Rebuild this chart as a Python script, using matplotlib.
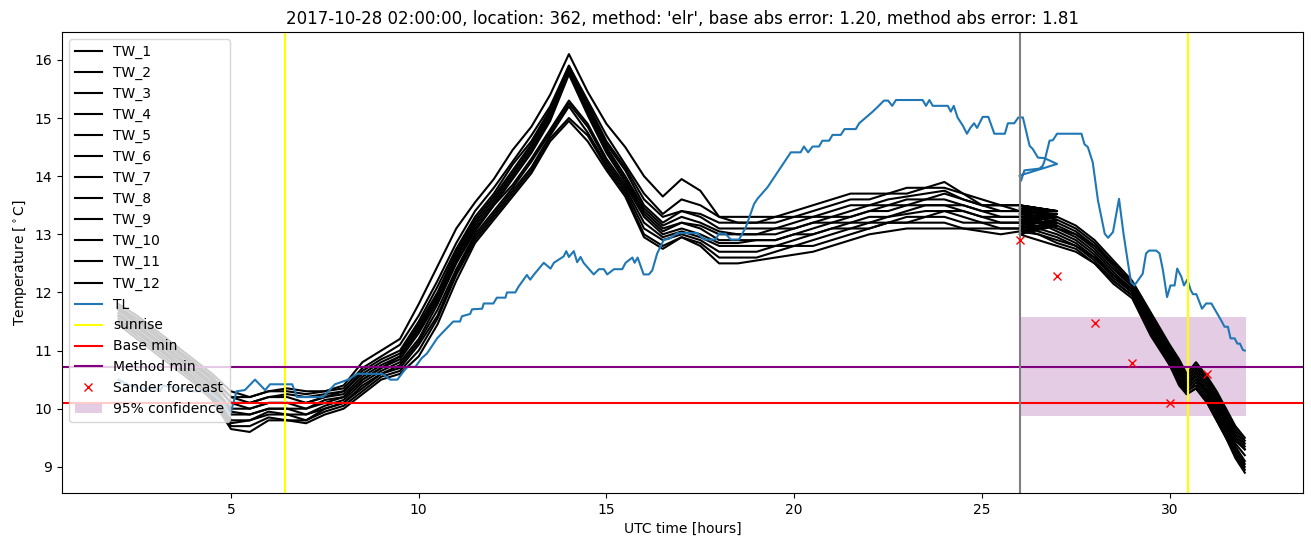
import numpy as np
import matplotlib
matplotlib.use("Agg")
import matplotlib.pyplot as plt

# ---------------- data ----------------
# TW series: part A (observed, 2 h .. 27 h) and part B (forecast, 26 h .. 32 h)
tw_x_a = [2.0, 2.5, 3.0, 3.5, 4.0, 4.5, 5.0, 5.5, 6.0, 6.5, 7.0, 7.5, 8.0, 8.5, 9.0, 9.5,
          10.0, 10.5, 11.0, 11.5, 12.0, 12.5, 13.0, 13.5, 14.0, 14.5, 15.0, 15.5, 16.0,
          16.5, 17.0, 17.5, 18.0, 18.5, 19.0, 19.5, 20.0, 20.5, 21.0, 21.5, 22.0, 22.5,
          23.0, 23.5, 24.0, 24.5, 25.0, 25.5, 26.0, 26.5, 27.0]
tw_x_b = [26.0, 26.5, 27.0, 27.5, 28.0, 28.5, 29.0, 29.5, 30.0, 30.25, 30.45, 30.7,
          31.0, 31.25, 31.5, 31.75, 32.0]

tw1_a = [11.8, 11.6, 11.35, 11.1, 10.85, 10.6, 10.3, 10.2, 10.3, 10.35, 10.3, 10.3, 10.4, 10.8, 11.0, 11.2, 11.8, 12.45, 13.1, 13.55, 13.95, 14.45, 14.85, 15.4, 16.1, 15.45, 14.9, 14.5, 14.0, 13.65, 13.95, 13.75, 13.3, 13.3, 13.3, 13.3, 13.4, 13.5, 13.6, 13.7, 13.7, 13.7, 13.8, 13.8, 13.9, 13.7, 13.6, 13.5, 13.5, 13.45, 13.4]
tw2_a = [11.75, 11.55, 11.3, 11.05, 10.8, 10.55, 10.2, 10.2, 10.3, 10.3, 10.25, 10.3, 10.35, 10.7, 10.9, 11.1, 11.6, 12.2, 12.85, 13.4, 13.8, 14.25, 14.7, 15.2, 15.9, 15.3, 14.7, 14.2, 13.7, 13.35, 13.6, 13.5, 13.3, 13.2, 13.2, 13.3, 13.3, 13.4, 13.5, 13.6, 13.6, 13.7, 13.7, 13.8, 13.8, 13.7, 13.5, 13.5, 13.5, 13.4, 13.4]
tw3_a = [11.75, 11.5, 11.3, 11.0, 10.8, 10.5, 10.2, 10.1, 10.2, 10.25, 10.2, 10.25, 10.3, 10.65, 10.85, 11.0, 11.5, 12.1, 12.75, 13.3, 13.7, 14.2, 14.6, 15.15, 15.9, 15.25, 14.6, 14.15, 13.6, 13.3, 13.4, 13.35, 13.2, 13.2, 13.2, 13.2, 13.3, 13.3, 13.4, 13.5, 13.5, 13.6, 13.65, 13.7, 13.75, 13.6, 13.5, 13.5, 13.4, 13.4, 13.4]
tw4_a = [11.7, 11.5, 11.25, 11.0, 10.75, 10.5, 10.1, 10.1, 10.2, 10.2, 10.1, 10.2, 10.3, 10.6, 10.8, 10.95, 11.45, 12.0, 12.7, 13.25, 13.65, 14.1, 14.55, 15.1, 15.85, 15.2, 14.55, 14.1, 13.5, 13.2, 13.4, 13.3, 13.1, 13.1, 13.1, 13.1, 13.2, 13.3, 13.3, 13.4, 13.5, 13.5, 13.6, 13.6, 13.7, 13.6, 13.5, 13.4, 13.4, 13.4, 13.4]
tw5_a = [11.7, 11.45, 11.2, 10.95, 10.7, 10.45, 10.1, 10.0, 10.1, 10.1, 10.1, 10.2, 10.25, 10.55, 10.75, 10.9, 11.4, 11.95, 12.65, 13.2, 13.6, 14.05, 14.5, 15.05, 15.8, 15.15, 14.5, 14.0, 13.45, 13.15, 13.3, 13.2, 13.05, 13.0, 13.0, 13.1, 13.1, 13.2, 13.3, 13.3, 13.4, 13.5, 13.5, 13.6, 13.6, 13.5, 13.4, 13.4, 13.4, 13.35, 13.35]
tw6_a = [11.65, 11.4, 11.2, 10.9, 10.7, 10.4, 10.0, 10.0, 10.1, 10.1, 10.0, 10.15, 10.2, 10.5, 10.7, 10.9, 11.35, 11.9, 12.6, 13.15, 13.55, 14.0, 14.45, 15.0, 15.8, 15.1, 14.45, 13.95, 13.4, 13.1, 13.2, 13.15, 13.0, 13.0, 13.0, 13.0, 13.1, 13.2, 13.2, 13.3, 13.4, 13.4, 13.5, 13.5, 13.5, 13.5, 13.4, 13.3, 13.3, 13.3, 13.35]
tw7_a = [11.6, 11.4, 11.15, 10.9, 10.65, 10.4, 9.95, 9.9, 10.0, 10.0, 10.0, 10.1, 10.2, 10.5, 10.7, 10.85, 11.3, 11.85, 12.55, 13.1, 13.5, 13.95, 14.4, 14.95, 15.75, 15.05, 14.4, 13.9, 13.35, 13.05, 13.2, 13.1, 12.9, 12.9, 12.9, 12.9, 13.0, 13.1, 13.2, 13.2, 13.3, 13.3, 13.4, 13.5, 13.5, 13.4, 13.3, 13.3, 13.3, 13.3, 13.3]
tw8_a = [11.6, 11.35, 11.1, 10.85, 10.6, 10.35, 9.9, 9.9, 10.0, 10.0, 9.9, 10.05, 10.15, 10.45, 10.65, 10.8, 11.2, 11.8, 12.5, 13.05, 13.5, 13.85, 14.3, 14.8, 15.3, 14.9, 14.3, 13.85, 13.3, 13.0, 13.1, 13.0, 12.85, 12.85, 12.9, 12.9, 13.0, 13.0, 13.1, 13.2, 13.2, 13.3, 13.35, 13.4, 13.4, 13.4, 13.3, 13.2, 13.2, 13.25, 13.3]
tw9_a = [11.55, 11.3, 11.1, 10.8, 10.55, 10.3, 9.8, 9.8, 9.95, 9.9, 9.9, 10.0, 10.1, 10.4, 10.6, 10.75, 11.15, 11.7, 12.4, 13.0, 13.4, 13.8, 14.25, 14.75, 15.25, 14.85, 14.25, 13.8, 13.2, 12.95, 13.05, 12.95, 12.8, 12.8, 12.8, 12.8, 12.9, 13.0, 13.1, 13.1, 13.2, 13.2, 13.3, 13.3, 13.4, 13.3, 13.2, 13.2, 13.2, 13.2, 13.25]
tw10_a = [11.5, 11.3, 11.05, 10.8, 10.5, 10.25, 9.75, 9.8, 9.9, 9.9, 9.8, 10.0, 10.1, 10.35, 10.6, 10.7, 11.1, 11.6, 12.35, 12.95, 13.35, 13.75, 14.15, 14.7, 15.2, 14.75, 14.2, 13.75, 13.1, 12.9, 13.0, 12.9, 12.7, 12.7, 12.7, 12.8, 12.8, 12.9, 13.0, 13.1, 13.1, 13.2, 13.2, 13.3, 13.3, 13.2, 13.2, 13.1, 13.1, 13.2, 13.2]
tw11_a = [11.5, 11.25, 11.0, 10.75, 10.5, 10.2, 9.7, 9.7, 9.85, 9.8, 9.8, 9.95, 10.05, 10.3, 10.55, 10.65, 11.0, 11.55, 12.3, 12.9, 13.3, 13.7, 14.1, 14.65, 15.0, 14.7, 14.15, 13.7, 13.0, 12.8, 12.95, 12.85, 12.6, 12.6, 12.6, 12.7, 12.8, 12.8, 12.9, 13.0, 13.1, 13.2, 13.2, 13.2, 13.2, 13.1, 13.1, 13.1, 13.1, 13.15, 13.2]
tw12_a = [11.45, 11.2, 10.95, 10.7, 10.45, 10.15, 9.65, 9.6, 9.8, 9.8, 9.75, 9.9, 10.0, 10.25, 10.5, 10.6, 10.9, 11.45, 12.2, 12.85, 13.25, 13.65, 14.05, 14.6, 14.95, 14.6, 14.1, 13.65, 12.95, 12.75, 12.95, 12.8, 12.5, 12.5, 12.55, 12.6, 12.65, 12.7, 12.8, 12.9, 13.0, 13.05, 13.1, 13.1, 13.1, 13.1, 13.05, 13.0, 13.05, 13.1, 13.15]

tw1_b = [13.5, 13.4, 13.3, 13.15, 12.9, 12.55, 12.2, 11.65, 11.1, 10.85, 10.6, 10.8, 10.55, 10.3, 10.0, 9.7, 9.5]
tw2_b = [13.45, 13.35, 13.25, 13.1, 12.85, 12.5, 12.15, 11.6, 11.05, 10.8, 10.55, 10.75, 10.5, 10.25, 9.95, 9.65, 9.45]
tw3_b = [13.4, 13.3, 13.2, 13.05, 12.8, 12.5, 12.15, 11.55, 11.0, 10.75, 10.5, 10.7, 10.45, 10.2, 9.9, 9.6, 9.4]
tw4_b = [13.35, 13.3, 13.15, 13.0, 12.8, 12.45, 12.1, 11.5, 11.0, 10.7, 10.45, 10.65, 10.4, 10.15, 9.85, 9.55, 9.35]
tw5_b = [13.3, 13.25, 13.1, 13.0, 12.75, 12.4, 12.1, 11.5, 10.95, 10.65, 10.4, 10.6, 10.35, 10.1, 9.8, 9.5, 9.3]
tw6_b = [13.3, 13.2, 13.1, 12.95, 12.7, 12.35, 12.05, 11.45, 10.9, 10.6, 10.4, 10.55, 10.3, 10.05, 9.75, 9.45, 9.3]
tw7_b = [13.25, 13.2, 13.05, 12.9, 12.65, 12.3, 12.05, 11.4, 10.9, 10.6, 10.35, 10.5, 10.3, 10.0, 9.7, 9.4, 9.2]
tw8_b = [13.2, 13.1, 13.0, 12.85, 12.6, 12.3, 12.0, 11.4, 10.85, 10.55, 10.35, 10.5, 10.25, 9.95, 9.65, 9.35, 9.1]
tw9_b = [13.15, 13.05, 12.95, 12.8, 12.6, 12.25, 12.0, 11.35, 10.8, 10.5, 10.3, 10.45, 10.2, 9.9, 9.6, 9.3, 9.05]
tw10_b = [13.1, 13.0, 12.9, 12.8, 12.55, 12.2, 11.95, 11.3, 10.8, 10.45, 10.3, 10.4, 10.15, 9.85, 9.55, 9.25, 9.0]
tw11_b = [13.05, 13.0, 12.85, 12.75, 12.5, 12.2, 11.95, 11.3, 10.75, 10.45, 10.25, 10.35, 10.1, 9.8, 9.5, 9.2, 8.95]
tw12_b = [13.0, 12.9, 12.8, 12.7, 12.5, 12.15, 11.9, 11.25, 10.75, 10.4, 10.25, 10.35, 10.1, 9.8, 9.5, 9.15, 8.9]

tw_names = ["TW_%d" % i for i in range(1, 13)]
tw_a = [tw1_a, tw2_a, tw3_a, tw4_a, tw5_a, tw6_a, tw7_a, tw8_a, tw9_a, tw10_a, tw11_a, tw12_a]
tw_b = [tw1_b, tw2_b, tw3_b, tw4_b, tw5_b, tw6_b, tw7_b, tw8_b, tw9_b, tw10_b, tw11_b, tw12_b]

# TL series
tl_x_a = [2.0, 2.3, 2.6, 3.0, 3.1, 3.2, 3.6, 4.0, 4.4, 4.8, 4.95, 5.0, 5.15, 5.37, 5.64, 5.91, 6.04,
          6.63, 6.76, 7.45, 7.77, 8.12, 8.36, 9.03, 9.24, 9.43, 9.69, 9.91, 10.08, 10.22, 10.49,
          10.62, 10.92, 11.1, 11.15, 11.37, 11.42, 11.69, 11.73, 11.99, 12.08, 12.31, 12.35,
          12.57, 12.66, 12.88, 12.97, 13.06, 13.33, 13.51, 13.6, 13.86, 13.93, 14.0, 14.13,
          14.22, 14.31, 14.39, 14.66, 14.8, 14.93, 15.02, 15.2, 15.42, 15.51, 15.69, 15.75,
          15.83, 15.99, 16.13, 16.22, 16.35, 16.53, 16.66, 16.89, 17.42, 17.6, 17.91, 17.99,
          18.17, 18.31, 18.53, 18.71, 18.93, 19.02, 19.29, 19.6, 19.91, 20.17, 20.26, 20.37,
          20.49, 20.66, 20.75, 20.93, 21.02, 21.24, 21.34, 21.64, 21.73, 21.91, 22.09, 22.22,
          22.39, 22.5, 22.61, 22.71, 23.42, 23.51, 23.6, 23.69, 24.09, 24.17, 24.25, 24.35,
          24.49, 24.6, 24.69, 24.79, 24.87, 25.02, 25.17, 25.33, 25.61, 25.69, 25.86, 25.97,
          26.09, 26.27, 26.35, 26.49, 26.66, 26.8, 27.0]
tl_y_a = [10.5, 10.4, 10.35, 10.35, 10.3, 10.4, 10.35, 10.3, 10.3, 10.1, 9.9, 9.95, 10.3, 10.32, 10.5,
          10.32, 10.42, 10.42, 10.2, 10.2, 10.42, 10.5, 10.6, 10.6, 10.5, 10.5, 10.72, 10.72,
          10.87, 10.95, 11.21, 11.3, 11.5, 11.5, 11.59, 11.63, 11.71, 11.72, 11.81, 11.81,
          11.91, 11.91, 12.0, 12.0, 12.1, 12.3, 12.22, 12.3, 12.51, 12.41, 12.51, 12.62, 12.71,
          12.61, 12.71, 12.52, 12.61, 12.51, 12.31, 12.4, 12.4, 12.31, 12.4, 12.4, 12.51, 12.6,
          12.51, 12.6, 12.31, 12.31, 12.38, 12.67, 12.91, 12.92, 13.02, 13.02, 12.91, 12.91,
          13.01, 13.01, 12.91, 12.91, 13.12, 13.52, 13.61, 13.81, 14.11, 14.41, 14.41, 14.51,
          14.41, 14.51, 14.51, 14.61, 14.61, 14.71, 14.71, 14.81, 14.81, 14.91, 15.01, 15.11,
          15.19, 15.3, 15.3, 15.21, 15.31, 15.31, 15.21, 15.31, 15.21, 15.21, 15.11, 15.21,
          15.01, 14.87, 14.73, 14.83, 14.91, 14.83, 15.02, 15.02, 14.73, 14.73, 14.91, 14.91,
          15.01, 15.01, 14.52, 14.47, 14.32, 14.31, 14.27, 14.21]
tl_x_b = [26.0, 26.04, 26.13, 26.53, 26.62, 26.67, 26.8, 26.89, 27.0, 27.65, 27.73, 27.82, 27.95,
          28.09, 28.27, 28.36, 28.49, 28.65, 28.77, 28.89, 28.97, 29.06, 29.19, 29.28, 29.37,
          29.45, 29.64, 29.73, 29.82, 29.93, 30.02, 30.13, 30.2, 30.31, 30.38, 30.47, 30.56,
          30.62, 30.71, 30.86, 30.97, 31.11, 31.37, 31.46, 31.55, 31.62, 31.73, 31.8, 31.87,
          31.95, 32.0]
tl_y_b = [14.01, 13.92, 14.1, 14.13, 14.18, 14.27, 14.61, 14.62, 14.73, 14.73, 14.55, 14.5, 14.24,
          13.58, 13.01, 12.94, 13.04, 13.61, 13.01, 12.5, 12.18, 12.12, 12.24, 12.32, 12.67,
          12.72, 12.72, 12.67, 12.38, 11.92, 12.12, 12.12, 12.41, 12.27, 12.12, 12.22, 12.04,
          11.97, 11.97, 11.72, 11.81, 11.81, 11.52, 11.41, 11.41, 11.21, 11.21, 11.12, 11.12,
          11.01, 11.0]

sunrise_x = [6.45, 30.48]
forecast_start = 26.0
base_min = 10.1
method_min = 10.72
sander_x = [26, 27, 28, 29, 30, 31]
sander_y = [12.91, 12.28, 11.47, 10.78, 10.09, 10.6]
conf_x = [26.0, 32.04]
conf_low = 9.88
conf_high = 11.57

title = ("2017-10-28 02:00:00, location: 362, method: 'elr', "
         "base abs error: 1.20, method abs error: 1.81")

# ---------------- plot ----------------
fig = plt.figure(figsize=(13.11, 5.47), dpi=100)
ax = fig.add_axes([62 / 1311, 54 / 547, (1303 - 62) / 1311, (493 - 32) / 547])

for name, ya, yb in zip(tw_names, tw_a, tw_b):
    ax.plot(tw_x_a + tw_x_b, ya + yb, color="black", label=name)

ax.plot(tl_x_a + tl_x_b, tl_y_a + tl_y_b, color="C0", label="TL")

ax.axvline(sunrise_x[0], color="yellow", label="sunrise")
ax.axvline(sunrise_x[1], color="yellow")
ax.axhline(base_min, color="red", label="Base min")
ax.axhline(method_min, color="purple", label="Method min")
ax.axvline(forecast_start, color="gray")
ax.plot(sander_x, sander_y, "x", color="red", label="Sander forecast")
ax.fill_between(conf_x, [conf_low] * 2, [conf_high] * 2, color="purple", alpha=0.2,
                linewidth=0, label="95% confidence")

ax.set_xlim(0.5, 33.55)
ax.set_ylim(8.55, 16.48)
ax.set_xticks([5, 10, 15, 20, 25, 30])
ax.set_yticks([9, 10, 11, 12, 13, 14, 15, 16])
ax.set_xlabel("UTC time [hours]")
ax.set_ylabel("Temperature [$^\\circ$C]")
ax.set_title(title)
ax.legend(loc="upper left")

fig.savefig("out.png", dpi=100)
